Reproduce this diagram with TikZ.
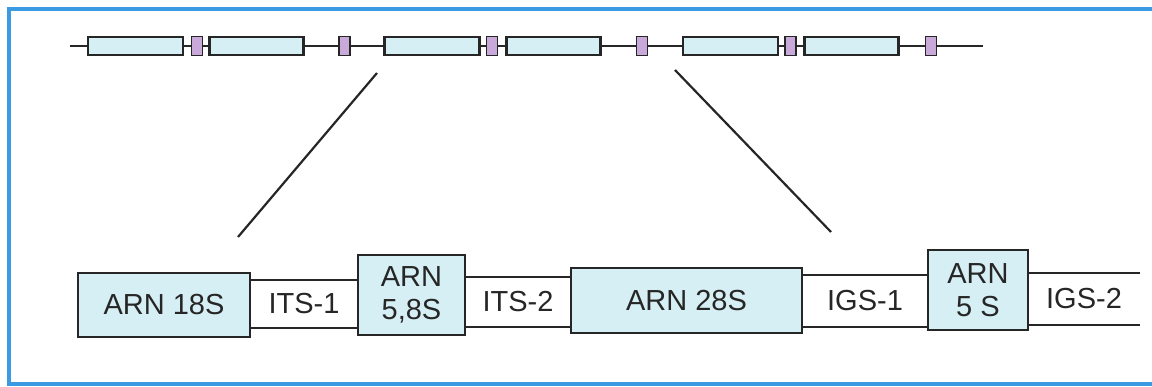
\documentclass[tikz,border=0pt]{standalone}
\usepackage{fontspec}
\setmainfont{Liberation Sans}
\usepackage{tikz}
\usetikzlibrary{positioning}
\definecolor{frameblue}{HTML}{3A9BE2}
\definecolor{arnfill}{HTML}{D6EFF4}
\definecolor{spacerfill}{HTML}{C9A8DA}
\definecolor{ink}{HTML}{262626}

\begin{document}
\begin{tikzpicture}[
    x=1pt, y=-1pt,
    font=\fontsize{29}{33}\selectfont,
    gene/.style={draw=ink, fill=arnfill, line width=2.2pt, inner sep=0pt, minimum width=#1, minimum height=18pt},
    spc/.style={draw=ink, fill=spacerfill, line width=1.8pt, inner sep=0pt, minimum width=11pt, minimum height=19pt},
    arn/.style={draw=ink, fill=arnfill, line width=2pt, inner sep=0pt, align=center, text=ink},
    gap/.style={inner sep=0pt, text=ink},
    wire/.style={ink, line width=2.2pt}
  ]
    \useasboundingbox (0,0) rectangle (1152,387);
    \clip (0,0) rectangle (1152,387);
    \coordinate (f0) at (1170,9);
    \coordinate (f1) at (1170,384);
    \draw[frameblue, line width=3.4pt] (f0) -| (9,384) -- (f1);

    % gene cluster
    \coordinate (s0) at (70,46);
    \coordinate (s1) at (983,46);
    \draw[wire] (s0) -- (s1);
    \foreach \n/\xa/\xp/\xb/\xq in {1/135.5/197/256.5/344.5, 2/432/492/553.5/642, 3/730.5/790.5/851.5/931}{
      \node[gene=95pt] (g\n a) at (\xa,46) {};
      \node[spc] (p\n a) at (\xp,46) {};
      \node[gene=94pt] (g\n b) at (\xb,46) {};
      \node[spc] (p\n b) at (\xq,46) {};
    }

    % zoom lines
    \coordinate (za) at (377,73);
    \coordinate (zb) at (238,237);
    \coordinate (zc) at (675,70);
    \coordinate (zd) at (831,232);
    \draw[wire] (za) -- (zb);
    \draw[wire] (zc) -- (zd);

    % one repeat unit
    \node[arn, minimum width=172pt, minimum height=64pt] (r18) at (164,305) {ARN 18S};
    \node[gap, minimum width=108pt, minimum height=48pt] (its1) at (304,304) {ITS-1};
    \node[arn, minimum width=107pt, minimum height=80pt] (r58) at (411.5,295) {ARN\\5,8S};
    \node[gap, minimum width=106pt, minimum height=50pt] (its2) at (518,302) {ITS-2};
    \node[arn, minimum width=231pt, minimum height=65pt] (r28) at (686.5,300.5) {ARN 28S};
    \node[gap, minimum width=126pt, minimum height=52pt] (igs1) at (865,301) {IGS-1};
    \node[arn, minimum width=100pt, minimum height=80pt] (r5) at (978,290) {ARN\\5 S};
    \node[gap, minimum width=112pt, minimum height=52pt] (igs2) at (1084,299) {IGS-2};
    \foreach \g in {its1, its2, igs1, igs2}{
      \draw[wire] (\g.north west) -- (\g.north east);
      \draw[wire] (\g.south west) -- (\g.south east);
    }
  \end{tikzpicture}
\end{document}
